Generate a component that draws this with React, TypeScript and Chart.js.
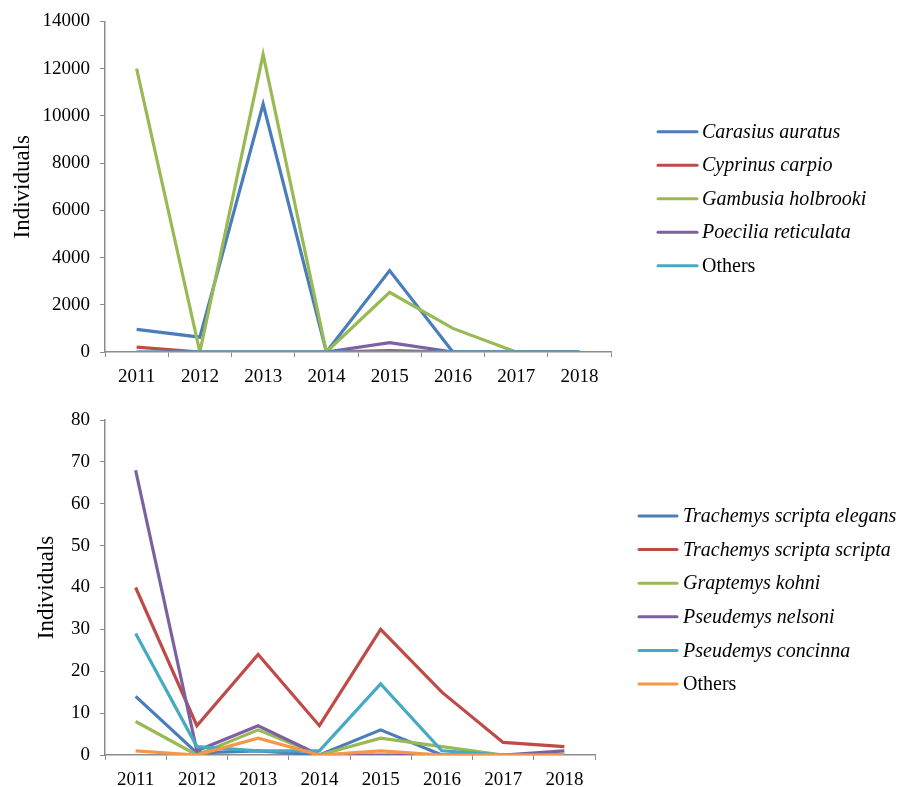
import React, { useEffect, useRef } from "react";
import { Chart, registerables } from "chart.js";

Chart.register(...registerables);

const years = ["2011", "2012", "2013", "2014", "2015", "2016", "2017", "2018"];

// Fish (top chart)
const fishLabels = ["Carasius auratus", "Cyprinus carpio", "Gambusia holbrooki", "Poecilia reticulata", "Others"];
const carasiusAuratus = [960, 630, 10500, 0, 3450, 0, 0, 0];
const cyprinusCarpio = [210, 0, 0, 0, 60, 0, 0, 0];
const gambusiaHolbrooki = [12000, 0, 12600, 0, 2530, 1000, 0, 0];
const poeciliaReticulata = [0, 0, 0, 0, 400, 0, 0, 0];
const fishOthers = [0, 0, 0, 0, 0, 0, 0, 0];
const fishTicks = [0, 2000, 4000, 6000, 8000, 10000, 12000, 14000];

// Turtles (bottom chart)
const turtleLabels = [
  "Trachemys scripta elegans",
  "Trachemys scripta scripta",
  "Graptemys kohni",
  "Pseudemys nelsoni",
  "Pseudemys concinna",
  "Others",
];
const tsElegans = [14, 0.5, 1, 0, 6, 0, 0, 0];
const tsScripta = [40, 7, 24, 7, 30, 15, 3, 2];
const graptemysKohni = [8, 0, 6, 0, 4, 2, 0, 0];
const pseudemysNelsoni = [68, 1, 7, 0, 0, 0, 0, 1];
const pseudemysConcinna = [29, 2, 1, 1, 17, 1, 0, 0];
const turtleOthers = [1, 0, 4, 0, 1, 0, 0, 0];
const turtleTicks = [0, 10, 20, 30, 40, 50, 60, 70, 80];

const COLORS = ["#4A7EBB", "#BE4B48", "#98B954", "#7D60A0", "#46AAC5", "#F79646"];
const FONT = "'Liberation Serif', 'Times New Roman', serif";

const sideLegend = {
  id: "sideLegend",
  afterDraw(chart: any, _args: any, opts: any) {
    const ctx = chart.ctx;
    ctx.save();
    chart.data.datasets.forEach((ds: any, i: number) => {
      const y = opts.y0 + i * opts.spacing;
      ctx.strokeStyle = ds.borderColor;
      ctx.lineWidth = 3;
      ctx.lineCap = "round";
      ctx.beginPath();
      ctx.moveTo(opts.lineX, y);
      ctx.lineTo(opts.lineX + opts.lineLen, y);
      ctx.stroke();
      const italic = ds.label !== "Others";
      ctx.font = `${italic ? "italic " : ""}${opts.fontSize}px ${FONT}`;
      ctx.fillStyle = "#000";
      ctx.textBaseline = "middle";
      ctx.textAlign = "left";
      ctx.fillText(ds.label, opts.textX, y + 1);
    });
    ctx.restore();
  },
};

function makeConfig(
  labels: string[],
  series: number[][],
  ticks: number[],
  p: { height: number; top: number; bottom: number; right: number; titlePad: number; legend: any }
): any {
  const max = ticks[ticks.length - 1];
  const step = ticks[1] - ticks[0];
  return {
    type: "line",
    data: {
      labels: years,
      datasets: series.map((d, i) => ({
        label: labels[i],
        data: d,
        borderColor: COLORS[i],
        backgroundColor: COLORS[i],
        borderWidth: 3.2,
        pointRadius: 0,
        tension: 0,
        fill: false,
        order: series.length - i,
      })),
    },
    options: {
      responsive: false,
      animation: false,
      devicePixelRatio: 1,
      layout: { padding: { left: 0, right: p.right, top: p.top, bottom: 0 } },
      plugins: {
        legend: { display: false },
        tooltip: { enabled: false },
        sideLegend: p.legend,
      },
      scales: {
        x: {
          type: "category",
          offset: true,
          grid: { drawOnChartArea: false, drawTicks: true, tickLength: 5, color: "#8c8c8c", offset: true },
          border: { display: true, color: "#8c8c8c", width: 1.5 },
          ticks: { color: "#000", font: { family: FONT, size: 19 }, padding: 9, maxRotation: 0 },
          afterFit: (s: any) => {
            s.height = p.height - p.bottom;
          },
        },
        y: {
          min: 0,
          max,
          ticks: {
            stepSize: step,
            color: "#000",
            font: { family: FONT, size: 19 },
            padding: 10,
            callback: (v: any) => String(v),
          },
          grid: { drawOnChartArea: false, drawTicks: true, tickLength: 5, color: "#8c8c8c" },
          border: { display: true, color: "#8c8c8c", width: 1.5 },
          title: {
            display: true,
            text: "Individuals",
            color: "#000",
            font: { family: FONT, size: 23 },
            padding: { top: p.titlePad, bottom: 0 },
          },
          afterFit: (s: any) => {
            s.width = 105;
          },
        },
      },
    },
    plugins: [sideLegend],
  };
}

function ChartCanvas({ config, width, height, top }: { config: any; width: number; height: number; top: number }) {
  const ref = useRef<HTMLCanvasElement | null>(null);
  useEffect(() => {
    if (!ref.current) return;
    const chart = new Chart(ref.current, config);
    return () => chart.destroy();
  }, []);
  return (
    <canvas
      ref={ref}
      width={width}
      height={height}
      style={{ position: "absolute", left: 0, top, width, height, display: "block" }}
    />
  );
}

export default function App() {
  const topCfg = makeConfig(
    fishLabels,
    [carasiusAuratus, cyprinusCarpio, gambusiaHolbrooki, poeciliaReticulata, fishOthers],
    fishTicks,
    {
      height: 395,
      top: 18,
      bottom: 352,
      right: 914 - 611,
      titlePad: 9,
      legend: { lineX: 658, lineLen: 39, textX: 702, y0: 131.7, spacing: 33.5, fontSize: 20 },
    }
  );
  const bottomCfg = makeConfig(
    turtleLabels,
    [tsElegans, tsScripta, graptemysKohni, pseudemysNelsoni, pseudemysConcinna, turtleOthers],
    turtleTicks,
    {
      height: 392,
      top: 25,
      bottom: 360,
      right: 914 - 595,
      titlePad: 33,
      legend: { lineX: 639, lineLen: 38, textX: 683, y0: 121, spacing: 33.6, fontSize: 20 },
    }
  );
  return (
    <div style={{ position: "fixed", left: 0, top: 0, width: 914, height: 787, background: "#fff", overflow: "hidden" }}>
      <ChartCanvas config={topCfg} width={914} height={395} top={0} />
      <ChartCanvas config={bottomCfg} width={914} height={392} top={395} />
    </div>
  );
}
